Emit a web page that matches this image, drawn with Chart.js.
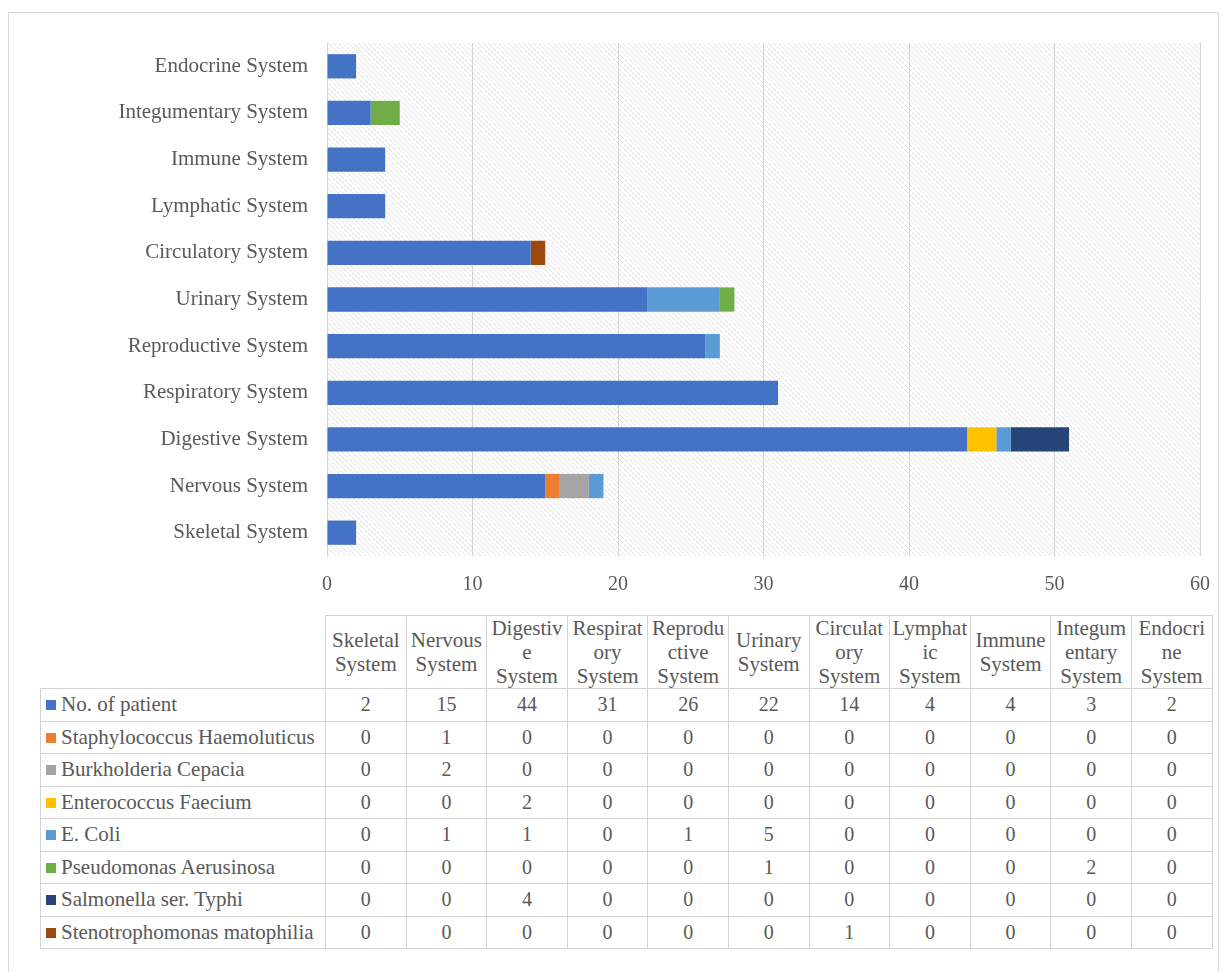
<!DOCTYPE html>
<html>
<head>
<meta charset="utf-8">
<script src="https://cdn.jsdelivr.net/npm/chart.js@4/dist/chart.umd.min.js"></script>
<style>
  html, body { margin: 0; padding: 0; background: #fff; }
  #frame { position: absolute; left: 8px; top: 12px; width: 1209px; height: 966px; border: 1px solid #d9d9d9; }
  #chart { position: absolute; left: 0; top: 0; }
  #table-wrap { position: absolute; left: 40px; top: 615px; }
  table { border-collapse: collapse; table-layout: fixed; font-family: "Liberation Serif", "Times New Roman", serif; color: #595959; }
  td, th { border: 1px solid #d4d4d4; padding: 0; font-weight: normal; }
  th { height: 72px; font-size: 21px; line-height: 24px; text-align: center; vertical-align: middle; }
  th.blank { border: none; }
  td { height: 31.5px; font-size: 20px; text-align: center; }
  td.name { text-align: left; font-size: 21px; white-space: nowrap; padding-left: 5px; }
  .key { display: inline-block; width: 10px; height: 10px; margin-right: 5px; vertical-align: 1px; }
</style>
</head>
<body>
<div id="frame"></div>
<canvas id="chart" width="1227" height="600"></canvas>
<div id="table-wrap"><table id="data-table"></table></div>
<script>
// categories, bottom to top as in the chart
const categories = ['Skeletal System', 'Nervous System', 'Digestive System', 'Respiratory System',
  'Reproductive System', 'Urinary System', 'Circulatory System', 'Lymphatic System',
  'Immune System', 'Integumentary System', 'Endocrine System'];

const seriesNames = ['No. of patient', 'Staphylococcus Haemoluticus', 'Burkholderia Cepacia',
  'Enterococcus Faecium', 'E. Coli', 'Pseudomonas Aerusinosa', 'Salmonella ser. Typhi',
  'Stenotrophomonas matophilia'];

const patients         = [2, 15, 44, 31, 26, 22, 14, 4, 4, 3, 2];
const staphylococcus   = [0, 1, 0, 0, 0, 0, 0, 0, 0, 0, 0];
const burkholderia     = [0, 2, 0, 0, 0, 0, 0, 0, 0, 0, 0];
const enterococcus     = [0, 0, 2, 0, 0, 0, 0, 0, 0, 0, 0];
const eColi            = [0, 1, 1, 0, 1, 5, 0, 0, 0, 0, 0];
const pseudomonas      = [0, 0, 0, 0, 0, 1, 0, 0, 0, 2, 0];
const salmonella       = [0, 0, 4, 0, 0, 0, 0, 0, 0, 0, 0];
const stenotrophomonas = [0, 0, 0, 0, 0, 0, 1, 0, 0, 0, 0];

const seriesValues = [patients, staphylococcus, burkholderia, enterococcus, eColi,
  pseudomonas, salmonella, stenotrophomonas];
const seriesColors = ['#4472C4', '#ED7D31', '#A5A5A5', '#FFC000', '#5B9BD5', '#70AD47', '#264478', '#9E480E'];

const xMin = 0, xMax = 60, xStep = 10;

const textColor = '#595959';
const fontFamily = '"Liberation Serif", "Times New Roman", serif';

// diagonal hatch behind the plot area
const hatchPlugin = {
  id: 'hatch',
  beforeDraw(chart) {
    const { ctx, chartArea: a } = chart;
    const s = 5;
    const tile = document.createElement('canvas');
    tile.width = s; tile.height = s;
    const t = tile.getContext('2d');
    t.fillStyle = '#ffffff';
    t.fillRect(0, 0, s, s);
    t.strokeStyle = '#e2e2e2';
    t.lineWidth = 1;
    [-s, 0, s].forEach(x0 => {
      t.beginPath();
      t.moveTo(x0, 0);
      t.lineTo(x0 + s, s);
      t.stroke();
    });
    ctx.save();
    ctx.fillStyle = ctx.createPattern(tile, 'repeat');
    ctx.fillRect(a.left, a.top, a.right - a.left, a.bottom - a.top);
    ctx.restore();
  }
};

new Chart(document.getElementById('chart'), {
  type: 'bar',
  data: {
    labels: categories,
    datasets: seriesNames.map((name, i) => ({
      label: name,
      data: seriesValues[i],
      backgroundColor: seriesColors[i],
      borderWidth: 0,
      barPercentage: 0.52,
      categoryPercentage: 1
    }))
  },
  options: {
    indexAxis: 'y',
    responsive: false,
    animation: false,
    layout: { padding: { top: 43, right: 27, left: 0, bottom: 0 } },
    plugins: { legend: { display: false }, tooltip: { enabled: false } },
    scales: {
      x: {
        stacked: true,
        min: xMin,
        max: xMax,
        ticks: { stepSize: xStep, color: textColor, font: { family: fontFamily, size: 20 }, padding: 17 },
        grid: { color: '#d4d4d4', drawTicks: false },
        border: { display: false },
        afterFit(scale) { scale.height = 44; }
      },
      y: {
        stacked: true,
        reverse: true,
        ticks: { color: textColor, font: { family: fontFamily, size: 21 }, padding: 19 },
        grid: { display: false, drawTicks: false },
        border: { display: true, color: '#d4d4d4' },
        afterFit(scale) { scale.width = 327; }
      }
    }
  },
  plugins: [hatchPlugin]
});

// data table under the chart
function wrapLabel(text, maxWidth) {
  const c = document.createElement('canvas').getContext('2d');
  c.font = '21px ' + fontFamily;
  const lines = [];
  let cur = '';
  text.split(' ').forEach(word => {
    const trial = cur ? cur + ' ' + word : word;
    if (c.measureText(trial).width <= maxWidth) { cur = trial; return; }
    if (cur) lines.push(cur);
    cur = '';
    let rest = word;
    while (c.measureText(rest).width > maxWidth) {
      let n = rest.length;
      while (n > 1 && c.measureText(rest.slice(0, n)).width > maxWidth) n--;
      lines.push(rest.slice(0, n));
      rest = rest.slice(n);
    }
    cur = rest;
  });
  if (cur) lines.push(cur);
  return lines;
}

const table = document.getElementById('data-table');
let html = '<colgroup><col style="width:285px">' +
  categories.map(() => '<col style="width:80.6px">').join('') + '</colgroup>';
html += '<tr><th class="blank"></th>' +
  categories.map(c => '<th>' + wrapLabel(c, 76).join('<br>') + '</th>').join('') + '</tr>';
seriesNames.forEach((name, i) => {
  html += '<tr><td class="name"><span class="key" style="background:' + seriesColors[i] + '"></span>' + name + '</td>' +
    seriesValues[i].map(v => '<td>' + v + '</td>').join('') + '</tr>';
});
table.innerHTML = html;
</script>
</body>
</html>
